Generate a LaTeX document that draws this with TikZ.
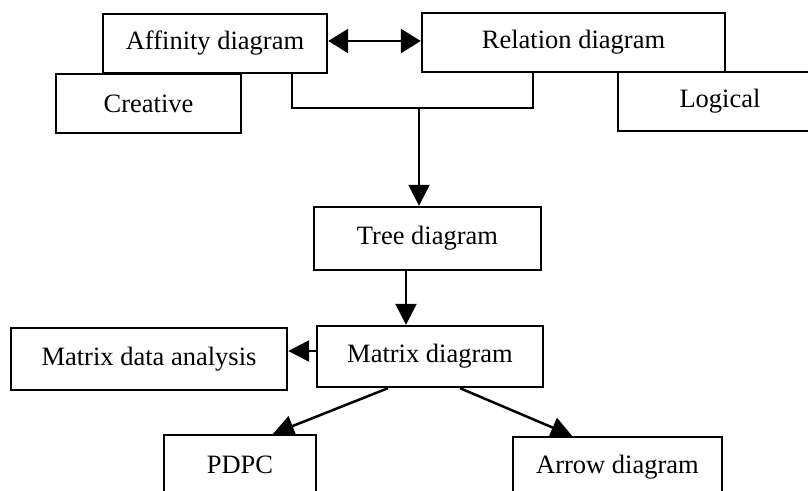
\documentclass[tikz,border=0pt]{standalone}
\usepackage{fontspec}
\setmainfont{Liberation Serif}
\usetikzlibrary{arrows.meta}
\begin{document}
\begin{tikzpicture}[x=1pt,y=-1pt,
  box/.style={draw,line width=2.4pt,rectangle,inner sep=0pt,
    font=\fontsize{26.5}{31}\selectfont},
  link/.style={line width=2.5pt},
  tip/.style={line width=2.5pt,-{Triangle[length=21pt,width=21pt]}},
  dtip/.style={line width=2.5pt,{Triangle[length=20pt,width=24pt]}-{Triangle[length=20pt,width=24pt]}}]
\useasboundingbox (0,0) rectangle (808,490);
\clip (0,0) rectangle (808,490);

% upper group
\node[box,minimum width=224pt,minimum height=59pt] (aff) at (215,43.5) {Affinity diagram};
\node[box,minimum width=303pt,minimum height=59pt] (rel) at (573.5,42.5) {Relation diagram};
\node[box,minimum width=185pt,minimum height=59pt] (cre) at (148.5,103.5) {Creative};
\node[box,minimum width=204pt,minimum height=59pt] (log) at (720,101.5) {Logical};

% middle chain
\node[box,minimum width=227pt,minimum height=63pt] (tree) at (427.5,238.5) {Tree diagram};
\node[box,minimum width=226pt,minimum height=61pt] (mat) at (430,356.5) {Matrix diagram};
\node[box,minimum width=276pt,minimum height=62pt] (mda) at (149,359) {Matrix data analysis};

% lower boxes (run past the lower edge)
\node[box,minimum width=152pt,minimum height=60pt] (pdpc) at (240,465) {PDPC};
\node[box,minimum width=209pt,minimum height=60pt] (arr) at (617.5,467) {Arrow diagram};

% connectors
\draw[dtip] (aff.east |- 0,41) -- (rel.west |- 0,41);

\coordinate (jl) at (292,108);
\coordinate (jr) at (533,108);
\coordinate (jm) at (419,108);
\draw[link] (aff.south -| jl) -- (jl) -- (jr) -- (rel.south -| jr);
\draw[tip] (jm) -- (jm |- tree.north);

\coordinate (tm) at (406,0);
\draw[tip] (tree.south -| tm) -- (mat.north -| tm);

\coordinate (mh) at (0,351);
\draw[tip] (mat.west |- mh) -- (mda.east |- mh);

\coordinate (pl) at (388,0);
\coordinate (pr) at (460,0);
\coordinate (pa) at (273,0);
\coordinate (pb) at (572,0);
\draw[tip] (mat.south -| pl) -- (pdpc.north -| pa);
\draw[tip] (mat.south -| pr) -- (arr.north -| pb);
\end{tikzpicture}
\end{document}
